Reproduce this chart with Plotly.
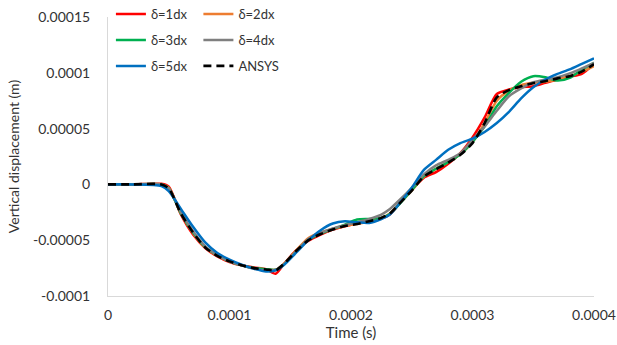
import plotly.graph_objects as go

# time in microseconds, displacement in micrometres (scaled below)
t_us = [0, 20, 44, 50, 60, 70, 80, 90, 100, 110, 120, 130, 138, 145, 155, 165, 175, 185,
        195, 205, 215, 225, 232, 240, 250, 260, 270, 280, 290, 300, 310, 320, 330, 340,
        350, 360, 370, 380, 390, 400]

d1_um = [0, 0, 0.5, -2, -27, -45, -57, -64.5, -69.5, -72.5, -74.5, -76, -80, -71, -59, -50.5, -45, -40.5,
         -37.5, -35, -33, -30.5, -27, -17, -5, 6, 11, 18.5, 28, 42, 60, 81, 85, 87,
         88, 91, 94, 96.5, 99, 108]
d2_um = [0, 0, 0, -3, -26, -43.5, -56.5, -64, -69, -72.5, -75, -76, -76.5, -71, -59, -48, -43, -40,
         -37, -35.5, -33, -30, -26, -17, -5.5, 7, 14, 20, 27, 38, 55, 75, 84, 89,
         91, 92, 94, 97, 101, 106]
d3_um = [0, 0, 0, -3.5, -26, -43, -56, -63.5, -69, -72.5, -75, -76, -76.5, -71.5, -60, -49.5, -44, -40,
         -36, -31.5, -31, -30, -26.5, -17.5, -5, 7.5, 14, 20, 27, 38, 52, 70, 82, 92,
         97, 96, 93, 95.5, 103, 109]
d4_um = [0, 0, 0, -3.5, -25, -42, -55.5, -63.5, -69, -72.5, -75.5, -77, -76.5, -71.5, -60, -49, -43.5, -39.5,
         -36.5, -34, -31, -27, -22, -14, -3, 9, 17, 22, 28, 40, 52, 66, 79, 86,
         91.5, 94, 96, 99.5, 104, 109]
d5_um = [0, 0, -1.5, -6, -22, -38, -52, -61.5, -67.5, -72, -75.5, -78, -77, -72, -61, -50, -41, -35,
         -33, -34, -34.5, -31, -27, -17, -3, 13, 22, 31, 37, 41, 47, 55, 65, 77,
         87, 94, 99, 103, 108, 113]
ansys_um = [0, 0, 0, -3.5, -26, -43, -56.5, -64, -69, -72.5, -75, -76.2, -77, -71, -59.5, -50, -44.5, -40.5,
            -37.3, -35.5, -33, -30, -26, -17, -5.5, 7, 13.5, 19.5, 26.5, 37, 55, 78, 84.5, 88,
            90.7, 92.5, 95, 97, 101, 107.7]

series_names = ["δ=1dx", "δ=2dx", "δ=3dx", "δ=4dx", "δ=5dx", "ANSYS"]
series_vals = [d1_um, d2_um, d3_um, d4_um, d5_um, ansys_um]
series_colors = ["#FF0000", "#ED7D31", "#00B050", "#7F7F7F", "#0070C0", "#000000"]
series_legend = ["legend", "legend2", "legend", "legend2", "legend", "legend2"]

x_tickvals = [0, 0.0001, 0.0002, 0.0003, 0.0004]
x_ticktext = ["0", "0.0001", "0.0002", "0.0003", "0.0004"]
y_tickvals = [-0.0001, -0.00005, 0, 0.00005, 0.0001, 0.00015]
y_ticktext = ["-0.0001", "-0.00005", "0", "0.00005", "0.0001", "0.00015"]

t = [v * 1e-6 for v in t_us]

fig = go.Figure()
for i, (name, vals, col, lg) in enumerate(zip(series_names, series_vals, series_colors, series_legend)):
    fig.add_trace(go.Scatter(
        x=t, y=[v * 1e-6 for v in vals], name=name, mode="lines",
        line=dict(color=col, width=2.5 if name != "ANSYS" else 2.6,
                  dash="8px,5px" if name == "ANSYS" else "solid",
                  shape="spline", smoothing=0.7),
        legend=lg, legendgroup=name,
    ))

font = "Lato, 'Open Sans', sans-serif"
fig.update_layout(
    width=617, height=345,
    margin=dict(l=108, r=23, t=17, b=49, autoexpand=False),
    paper_bgcolor="white", plot_bgcolor="white",
    font=dict(family=font, size=14, color="#333333"),
    legend=dict(x=0.006, y=1.064, xanchor="left", yanchor="top", bgcolor="rgba(0,0,0,0)",
                font=dict(size=13, color="#333333"), tracegroupgap=6, itemwidth=30),
    legend2=dict(x=0.186, y=1.064, xanchor="left", yanchor="top", bgcolor="rgba(0,0,0,0)",
                 font=dict(size=13, color="#333333"), tracegroupgap=6, itemwidth=30),
    xaxis=dict(range=[0, 0.0004], tickvals=x_tickvals, ticktext=x_ticktext, automargin=False,
               showgrid=False, zeroline=False, showline=True, linecolor="#D9D9D9", linewidth=1,
               ticks="", ticklabelstandoff=6, tickfont=dict(size=14),
               title=dict(text="Time (s)", font=dict(size=15), standoff=2)),
    yaxis=dict(range=[-0.0001, 0.00015], tickvals=y_tickvals, ticktext=y_ticktext, automargin=False,
               showgrid=False, zeroline=False, showline=True, linecolor="#D9D9D9", linewidth=1,
               ticks="", ticklabelstandoff=14, tickfont=dict(size=14),
               title=dict(text="Vertical displacement (m)", font=dict(size=14), standoff=10)),
)
fig.write_html("out.html")
